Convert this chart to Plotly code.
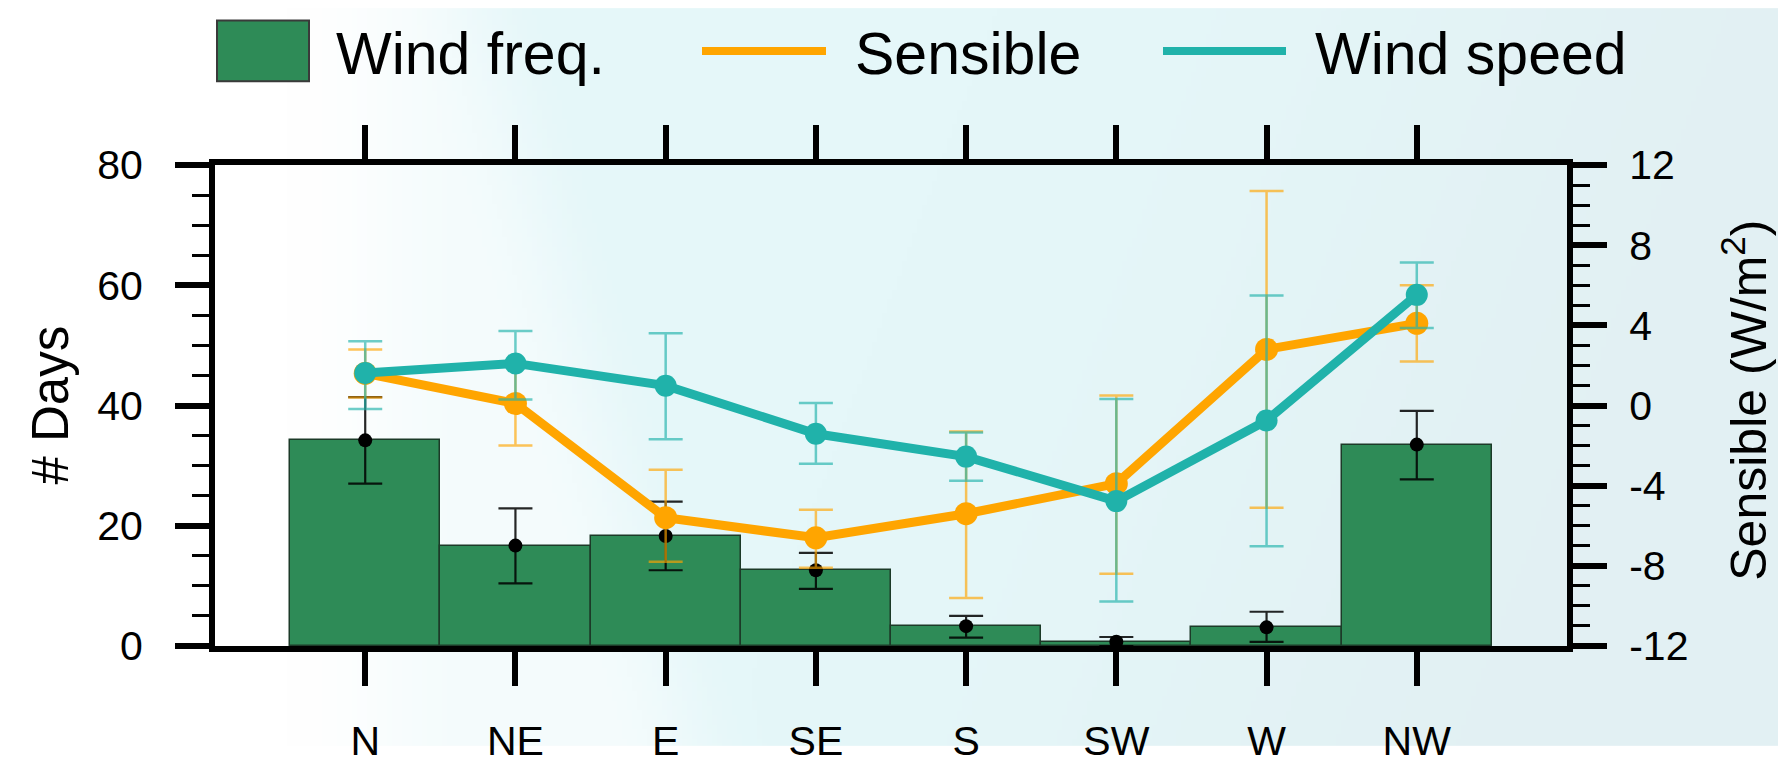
import base64
import struct
import zlib

import numpy as np
import plotly.graph_objects as go

# ---------------------------------------------------------------- data
directions = ["N", "NE", "E", "SE", "S", "SW", "W", "NW"]

# wind frequency (# days) with spread
wind_freq = [34.2, 16.7, 18.3, 12.6, 3.3, 0.7, 3.1, 33.5]
wind_freq_hi = [41.4, 22.9, 24.0, 15.5, 5.0, 1.5, 5.7, 39.1]
wind_freq_lo = [27.0, 10.4, 12.6, 9.5, 1.4, 0.0, 0.7, 27.7]

# sensible heat flux (W/m2)
sensible = [1.6, 0.1, -5.6, -6.6, -5.4, -3.9, 2.8, 4.1]
sensible_hi = [2.8, 2.1, -3.2, -5.2, -1.3, 0.5, 10.7, 6.0]
sensible_lo = [0.4, -2.0, -7.8, -8.1, -9.6, -8.4, -5.1, 2.2]

# wind speed (m/s), drawn on a hidden axis
wind_speed = [4.54, 4.70, 4.33, 3.53, 3.15, 2.41, 3.75, 5.84]
wind_speed_hi = [5.07, 5.24, 5.20, 4.04, 3.55, 4.11, 5.83, 6.38]
wind_speed_lo = [3.94, 4.10, 3.44, 3.03, 2.75, 0.74, 1.66, 5.29]

days_ticks = [0, 20, 40, 60, 80]
sens_ticks = [-12, -8, -4, 0, 4, 8, 12]

GREEN = "#2E8B57"
ORANGE = "#FFA500"
TEAL = "#20B2AA"
FONT = "Liberation Sans, Arial, Helvetica, sans-serif"

W, H = 1778, 776
L_M, R_M, T_M, B_M = 215, 211, 165, 105


def spread(vals, hi, lo):
    up = [h - v for v, h in zip(vals, hi)]
    down = [v - l for v, l in zip(vals, lo)]
    return up, down


# ---------------------------------------------------------- background
def png_uri(rgb):
    h, w, _ = rgb.shape
    raw = b"".join(b"\x00" + rgb[i].tobytes() for i in range(h))

    def chunk(tag, data):
        c = struct.pack(">I", len(data)) + tag + data
        return c + struct.pack(">I", zlib.crc32(tag + data) & 0xFFFFFFFF)

    png = (b"\x89PNG\r\n\x1a\n"
           + chunk(b"IHDR", struct.pack(">IIBBBBB", w, h, 8, 2, 0, 0, 0))
           + chunk(b"IDAT", zlib.compress(raw, 9))
           + chunk(b"IEND", b""))
    return "data:image/png;base64," + base64.b64encode(png).decode()


def smooth(a, b, v):
    t = np.clip((v - a) / (b - a), 0, 1)
    return t * t * (3 - 2 * t)


gx, gy = np.meshgrid(np.linspace(0, W, 356), np.linspace(0, H, 156))
t_cyan = 0.4 * smooth(290, 470, gx) + 0.6 * smooth(-70, 90, gx - (470 + 0.27 * gy))
t_gray = 0.6 * smooth(1000, 1900, gx + 0.35 * gy)
white = np.array([255, 255, 255], float)
cyan = np.array([229, 247, 249], float)
gray = np.array([224, 236, 239], float)
col = white * (1 - t_cyan[..., None]) + cyan * t_cyan[..., None]
col = col * (1 - t_gray[..., None]) + gray * t_gray[..., None]
bg = png_uri(np.clip(col, 0, 255).astype(np.uint8))

# -------------------------------------------------------------- traces
fig = go.Figure()

fig.add_trace(go.Bar(
    x=directions, y=wind_freq, width=1.0,
    marker=dict(color=GREEN, line=dict(color="#1c3a28", width=1.5)),
    showlegend=False, yaxis="y",
))

up, down = spread(wind_freq, wind_freq_hi, wind_freq_lo)
fig.add_trace(go.Scatter(
    x=directions, y=wind_freq, mode="markers",
    marker=dict(color="black", size=14),
    error_y=dict(type="data", symmetric=False, array=up, arrayminus=down,
                 color="rgba(0,0,0,0.85)", thickness=2.2, width=17),
    showlegend=False, yaxis="y",
))

up, down = spread(wind_speed, wind_speed_hi, wind_speed_lo)
fig.add_trace(go.Scatter(
    x=directions, y=wind_speed, mode="lines+markers",
    line=dict(color=TEAL, width=9),
    marker=dict(color=TEAL, size=22),
    error_y=dict(type="data", symmetric=False, array=up, arrayminus=down,
                 color="rgba(32,178,170,0.65)", thickness=2.5, width=17),
    showlegend=False, yaxis="y3",
))

up, down = spread(sensible, sensible_hi, sensible_lo)
fig.add_trace(go.Scatter(
    x=directions, y=sensible, mode="lines+markers",
    line=dict(color=ORANGE, width=9),
    marker=dict(color=ORANGE, size=23),
    error_y=dict(type="data", symmetric=False, array=up, arrayminus=down,
                 color="rgba(255,165,0,0.65)", thickness=2.5, width=17),
    showlegend=False, yaxis="y2",
))

# -------------------------------------------------------------- layout
tick_font = dict(family=FONT, size=41, color="black")
axis_common = dict(
    showline=True, linecolor="black", linewidth=6,
    ticks="outside", ticklen=34, tickwidth=6, tickcolor="black",
    showgrid=False, zeroline=False, tickfont=tick_font,
)

fig.update_layout(
    width=W, height=H,
    margin=dict(l=L_M, r=R_M, t=T_M, b=B_M, pad=0),
    paper_bgcolor="white", plot_bgcolor="rgba(0,0,0,0)",
    bargap=0, showlegend=False,
    font=dict(family=FONT, color="black"),
    xaxis=dict(**axis_common, type="category", range=[-1, 8],
               mirror="ticks", ticklabelstandoff=20),
    yaxis=dict(**axis_common, range=[0, 80], tickvals=days_ticks,
               ticktext=[str(v) for v in days_ticks],
               minor=dict(dtick=5, ticks="outside", ticklen=17, tickwidth=3,
                          tickcolor="black"),
               ticklabelstandoff=24),
    yaxis2=dict(**axis_common, range=[-12, 12], overlaying="y", side="right",
                tickvals=sens_ticks, ticktext=[str(v) for v in sens_ticks],
                minor=dict(dtick=1, ticks="outside", ticklen=17, tickwidth=3,
                           tickcolor="black"),
                ticklabelstandoff=14),
    yaxis3=dict(range=[0, 8], overlaying="y", visible=False),
    images=[dict(source=bg, xref="paper", yref="paper", x=-L_M / (W - L_M - R_M),
                 y=1 + T_M / (H - T_M - B_M), sizex=W / (W - L_M - R_M),
                 sizey=H / (H - T_M - B_M), xanchor="left", yanchor="top",
                 sizing="stretch", layer="below")],
)

PW, PH = W - L_M - R_M, H - T_M - B_M


def px(x):
    return (x - L_M) / PW


def py(y):
    return (H - B_M - y) / PH


# axis titles
fig.add_annotation(text="# Days", x=px(50), y=py(418), xref="paper", yref="paper",
                   xanchor="center", yanchor="middle",
                   textangle=-90, showarrow=False,
                   font=dict(family=FONT, size=51, color="black"))
fig.add_annotation(text="Sensible (W/m<sup>2</sup>)", x=px(1745), y=py(413),
                   xref="paper", yref="paper", xanchor="center", yanchor="middle",
                   textangle=-90, showarrow=False,
                   font=dict(family=FONT, size=50, color="black"))

# legend row
fig.add_shape(type="rect", xref="paper", yref="paper",
              x0=px(217), x1=px(309), y0=py(77), y1=py(13),
              fillcolor=GREEN, line=dict(color="#3a3a3a", width=2))
fig.add_shape(type="line", xref="paper", yref="paper",
              x0=px(702), x1=px(826), y0=py(45), y1=py(45),
              line=dict(color=ORANGE, width=8))
fig.add_shape(type="line", xref="paper", yref="paper",
              x0=px(1163), x1=px(1286), y0=py(45), y1=py(45),
              line=dict(color=TEAL, width=8))
for label, xl in [("Wind freq.", 334), ("Sensible", 853), ("Wind speed", 1313)]:
    fig.add_annotation(text=label, x=px(xl), y=py(48), xref="paper", yref="paper",
                       xanchor="left", yanchor="middle", showarrow=False,
                       font=dict(family=FONT, size=59, color="black"))

fig.write_html("out.html")
